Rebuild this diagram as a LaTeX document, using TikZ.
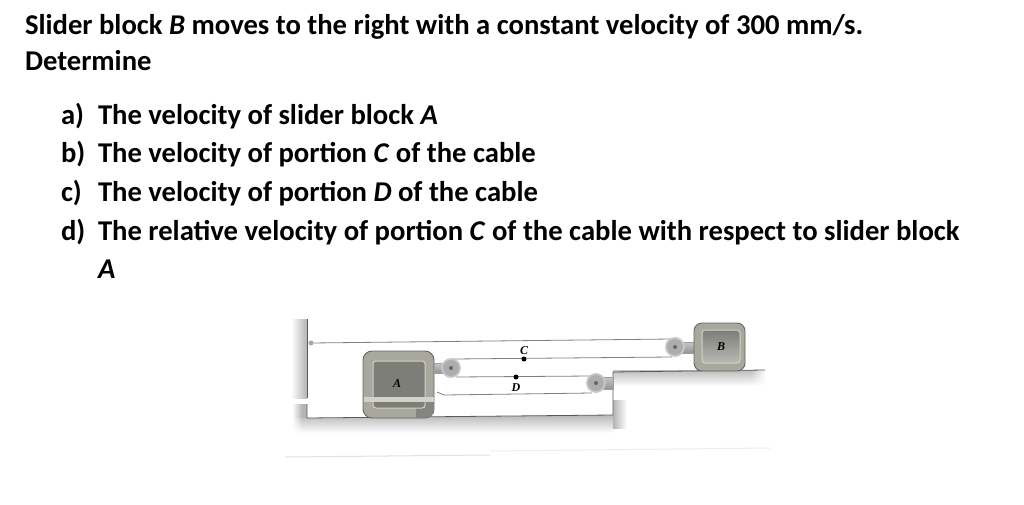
\documentclass[tikz,border=0pt]{standalone}
\usepackage{fontspec}
\setmainfont{Carlito}
\newfontfamily\figfont{Liberation Serif}
\usetikzlibrary{fadings}
\definecolor{blockout}{HTML}{A8A89E}
\definecolor{blockedge}{HTML}{66665F}
\definecolor{blockin}{HTML}{7E7E78}
\definecolor{bandc}{HTML}{D2D2CA}
\definecolor{groundc}{HTML}{B4B4B4}
\tikzset{
  qtext/.style={anchor=base west,inner sep=0pt,outer sep=0pt,text=black,font=\fontsize{28.65}{34}\selectfont\bfseries},
  figlabel/.style={inner sep=0pt,text=black,font=\figfont\fontsize{12}{14}\selectfont\bfseries\itshape},
  cable/.style={draw=black!50,line width=0.8pt},
  surface/.style={draw=black!65,line width=0.8pt},
  pulleywheel/.style={circle,minimum size=18pt,inner sep=0pt,draw=black!22,line width=1.8pt,fill=black!32},
  pulleyhub/.style={circle,minimum size=4pt,inner sep=0pt,fill=black!60},
  bracket/.style={top color=black!22,bottom color=black!42,draw=black!38,line width=0.4pt},
  dotpt/.style={circle,fill=black,minimum size=5pt,inner sep=0pt},
}
\begin{document}
\begin{tikzpicture}[x=1pt,y=-1pt]
\useasboundingbox (0,0) rectangle (1024,505);
\fill[white] (0,0) rectangle (1024,505);
% text
\node[qtext] (t1) at (25,35) {Slider block \textit{B} moves to the right with a constant velocity of 300 mm/s.};
\node[qtext] (t2) at (25,71) {Determine};
\node[qtext] (a1) at (61,125) {a)}; \node[qtext] (a2) at (98,125) {The velocity of slider block \textit{A}};
\node[qtext] (b1) at (61,163) {b)}; \node[qtext] (b2) at (98,163) {The velocity of portion \textit{C} of the cable};
\node[qtext] (c1) at (61,201) {c)}; \node[qtext] (c2) at (98,201) {The velocity of portion \textit{D} of the cable};
\node[qtext] (d1) at (61,240) {d)}; \node[qtext] (d2) at (98,240) {The relative velocity of portion \textit{C} of the cable with respect to slider block};
\node[qtext] (d3) at (98,278) {\textit{A}};
% ground shading
\shade[left color=white,middle color=groundc,right color=groundc] (291,319) rectangle (307,398);
\shade[top color=groundc,middle color=groundc,bottom color=white] (293,414) rectangle (613,433);
\shade[left color=groundc,right color=white] (613,400) rectangle (627,428);
\shade[top color=groundc,middle color=groundc,bottom color=white] (613,368) rectangle (765,386);
\fill[white] (293,404) -- (307,404) -- (307,418) -- (613,415) -- (613,370) -- (765,370) -- (765,365) -- (600,365) -- (600,410) -- (293,410) -- cycle;
\fill[groundc] (293,404) rectangle (307,418.2);
\fill[white,path fading=east] (292,403) rectangle (302,434);
\fill[white,path fading=west] (750,369) rectangle (766,387);
% surfaces
\draw[surface] (307,319) -- (307,398);
\draw[surface] (307,404) -- (307,418) -- (613,415) -- (613,372) -- (765,370);
% faint line
\draw[black!12,line width=1pt] (285,457) -- (490,455);
\draw[black!7,line width=1pt] (490,451) -- (770,448);
% cables
\node[circle,minimum size=5pt,inner sep=0pt,fill=black!35] (anchorw) at (311,343) {};
\coordinate (pbtop) at (672,339);
\coordinate (pbbot) at (672,357);
\coordinate (patop) at (453,359);
\coordinate (pabot) at (456,377);
\coordinate (pmtop) at (592,376);
\coordinate (pmbot) at (592,393);
\coordinate (aout) at (437,392);
\coordinate (aout2) at (444,395);
\draw[cable] (anchorw) -- (pbtop);
\draw[cable] (patop) -- (pbbot);
\draw[cable] (pabot) -- (pmtop);
\draw[cable] (aout) -- (aout2) -- (pmbot);
% block A
\draw[blockedge,line width=0.9pt,fill=blockout,rounded corners=9pt] (363,351) rectangle (434,418);
\begin{scope}
\clip[rounded corners=9pt] (363,351) rectangle (434,418);
\fill[blockedge!80] (425,402) -- (434,402) -- (434,418) -- (416,418) -- (416,408) -- (425,408) -- cycle;
\end{scope}
\draw[bandc,line width=1pt,fill=blockin,rounded corners=3pt] (373,361) rectangle (425,408);
\fill[bandc] (363.5,397) rectangle (433.5,402);
\node[figlabel] (la) at (397,384) {A};
% pulley A
\draw[bracket] (434,363) rectangle (451,373);
\node[pulleywheel] (pa) at (451,368) {};
\node[pulleyhub] (ha) at (451,368) {};
% pulley mid
\draw[bracket] (596,377) rectangle (613,389);
\node[pulleywheel] (pm) at (596,383) {};
\node[pulleyhub] (hm) at (596,383) {};
% pulley B
\draw[bracket] (675,342) rectangle (695,353);
\node[pulleywheel] (pb) at (675,347) {};
\node[pulleyhub] (hb) at (675,347) {};
% block B
\draw[blockedge,line width=0.9pt,fill=blockout,rounded corners=8pt] (694,323) rectangle (745,371);
\draw[bandc,line width=1pt,top color=blockin,bottom color=blockin!55,rounded corners=3pt] (702,330) rectangle (740,363);
\node[figlabel] (lb) at (721,347) {B};
% points
\node[dotpt] (dc) at (524,359) {};
\node[dotpt] (dd) at (516,377) {};
\node[figlabel] (lc) at (524,351) {C};
\node[figlabel] (ld) at (516,388) {D};
\end{tikzpicture}
\end{document}
